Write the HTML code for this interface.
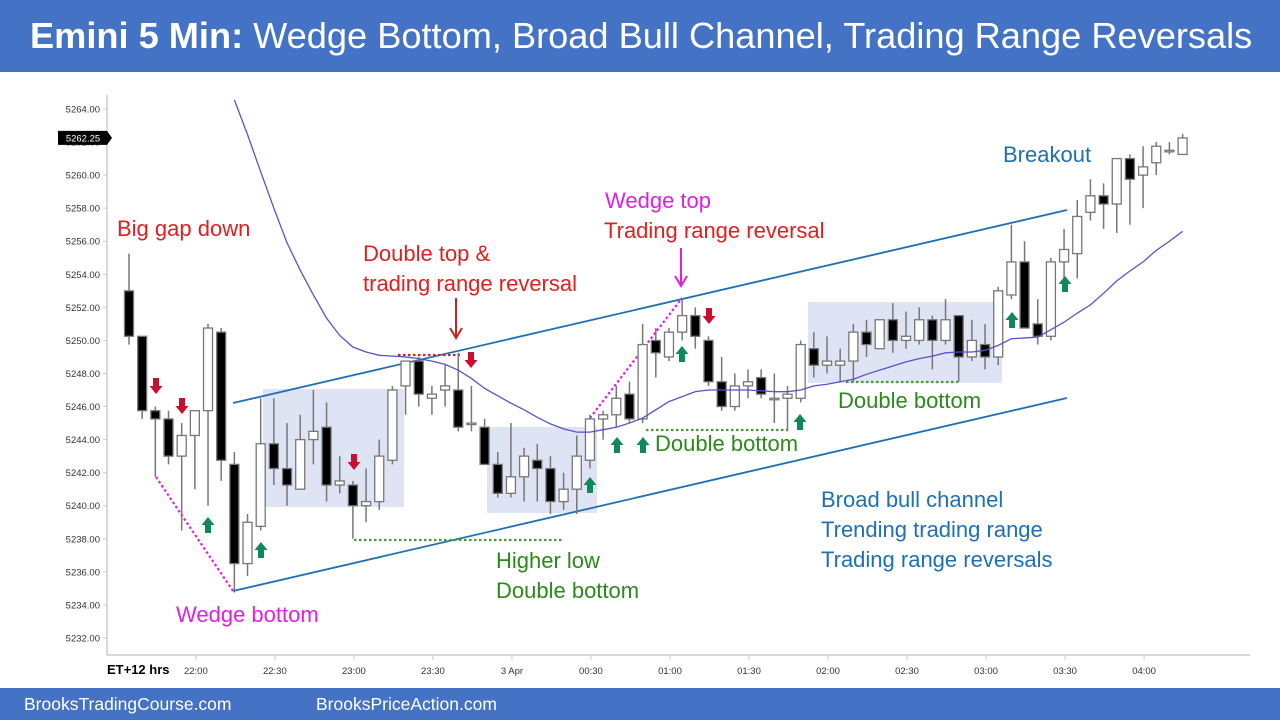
<!DOCTYPE html>
<html><head><meta charset="utf-8"><style>
html,body{margin:0;padding:0;background:#fff;width:1280px;height:720px;overflow:hidden;font-family:"Liberation Sans",sans-serif}
#title{position:absolute;left:0;top:0;width:1280px;height:72px;background:#4472c4;color:#fff;font-size:36.2px;line-height:72px;white-space:nowrap}
#title span{margin-left:30px}
#foot{position:absolute;left:0;top:688px;width:1280px;height:32px;background:#4472c4;color:#fff;font-size:17.5px;line-height:32px}
svg{position:absolute;left:0;top:0}
</style></head><body>
<div id="title"><span><b>Emini 5 Min:</b> Wedge Bottom, Broad Bull Channel, Trading Range Reversals</span></div>
<svg id="chart" width="1280" height="720"></svg>
<div id="foot"><span style="position:absolute;left:24px">BrooksTradingCourse.com</span><span style="position:absolute;left:316px">BrooksPriceAction.com</span></div>
<script>
const opens=[5253,5250.25,5245.75,5245.25,5243,5244.25,5245.75,5250.5,5242.5,5236.5,5238.75,5243.75,5242.25,5241,5244,5244.75,5241.25,5241.25,5240,5240.25,5242.75,5247.25,5248.75,5246.5,5247,5247,5245,5244.75,5242.5,5240.75,5241.75,5242.75,5242.25,5240.25,5241,5242.75,5245.25,5245.5,5246.75,5245.25,5250,5249,5250.5,5251.5,5250,5247.5,5246,5247.25,5247.75,5246.5,5246.5,5246.5,5249.5,5248.5,5248.5,5248.75,5250.5,5249.5,5251.25,5250,5250,5251.25,5250,5251.5,5249,5249.75,5249,5252.75,5254.75,5251,5250.25,5254.75,5255.25,5257.75,5258.75,5258.25,5261,5260,5260.75,5261.5,5261.25];
const highs=[5255.25,5250.25,5246,5245.75,5245,5245.75,5251,5250.75,5243.25,5239.5,5246.5,5246.5,5245,5245.5,5247,5246.25,5243,5241.5,5242.25,5244,5247.25,5248.75,5249,5247.25,5248.5,5249.25,5247.25,5245.25,5243.25,5245,5243.5,5243.75,5243,5242,5244.25,5245.5,5245.75,5247.25,5247.5,5251,5250.75,5250.75,5252.5,5252,5250.25,5249,5248,5248.25,5248.25,5248,5247.25,5250,5250.5,5250.25,5249.5,5251,5251.25,5251.25,5252.25,5251.75,5252,5251.5,5252.5,5251.5,5251.25,5251,5253.25,5257,5256,5252.5,5255,5256.75,5258.5,5259.75,5259.5,5261,5261.25,5261.75,5262,5262,5262.5];
const lows=[5249.75,5245.25,5241.75,5242.5,5238.5,5241,5240,5241.5,5234.75,5235.75,5238.5,5241.25,5240,5241,5242.5,5240.25,5240.75,5238,5239,5239.75,5242.5,5245.5,5246,5245.5,5246,5244.5,5244.5,5242.5,5240.5,5240.5,5240.25,5240.25,5239.5,5239.75,5239.5,5242.25,5244,5244.75,5245,5245,5247.75,5248.75,5250,5249.5,5247.25,5245.75,5245.75,5246.5,5246.5,5245,5244.5,5246.25,5247.75,5248,5247.5,5247.5,5249,5249.5,5249.25,5249.5,5249.75,5248.25,5249.75,5247.5,5248.75,5248.25,5248.5,5252.5,5250.75,5249.75,5250,5253.75,5253.75,5257.25,5256.75,5256.5,5257,5258,5260,5261.25,5261.25];
const closes=[5250.25,5245.75,5245.25,5243,5244.25,5245.75,5250.75,5242.75,5236.5,5239,5243.75,5242.25,5241.25,5244,5244.5,5241.25,5241.5,5240,5240.25,5243,5247,5248.75,5246.75,5246.75,5247.25,5244.75,5245,5242.5,5240.75,5241.75,5243,5242.25,5240.25,5241,5243,5245.25,5245.5,5246.5,5245.25,5249.75,5249.25,5250.5,5251.5,5250.25,5247.5,5246,5247.25,5247.5,5246.75,5246.5,5246.75,5249.75,5248.5,5248.75,5248.75,5250.5,5249.75,5251.25,5250,5250.25,5251.25,5250,5251.25,5249,5250,5249,5253,5254.75,5250.75,5250.25,5254.75,5255.5,5257.5,5258.75,5258.25,5261,5259.75,5260.5,5261.75,5261.5,5262.25];
const emaStart=8;
const ema=[5264.55,5262.45,5260.2,5258,5255.9,5254.25,5252.75,5251.35,5250.3,5249.6,5249.3,5249.1,5249.05,5249,5248.9,5248.75,5248.55,5248.2,5247.7,5247.1,5246.65,5246.2,5245.8,5245.35,5244.95,5244.65,5244.45,5244.45,5244.6,5244.75,5245,5245.3,5245.8,5246.3,5246.6,5246.9,5247,5247,5247,5247,5246.95,5246.9,5246.9,5247,5247.25,5247.35,5247.5,5247.65,5247.95,5248.2,5248.45,5248.7,5248.9,5249.05,5249.25,5249.3,5249.3,5249.4,5249.7,5250.1,5250.15,5250.2,5250.65,5251.1,5251.65,5252.15,5252.85,5253.6,5254.2,5254.75,5255.45,5256,5256.6];
const yTicks=[5232,5234,5236,5238,5240,5242,5244,5246,5248,5250,5252,5254,5256,5258,5260,5262,5264];
const xLabels=["22:00","22:30","23:00","23:30","3 Apr","00:30","01:00","01:30","02:00","02:30","03:00","03:30","04:00"];
const lastPrice=5262.25;

const NS="http://www.w3.org/2000/svg";
const svg=document.getElementById('chart');
const Y=p=>109+(5264-p)*16.53;
const X=i=>129+i*13.17;
function el(t,a,parent){const e=document.createElementNS(NS,t);for(const k in a)e.setAttribute(k,a[k]);(parent||svg).appendChild(e);return e;}

let ax=el('line',{x1:107,y1:95,x2:107,y2:655,stroke:'#ccc','stroke-width':1.5});


let bx=el('line',{x1:107,y1:655,x2:1250,y2:655,stroke:'#ccc','stroke-width':1.5});


yTicks.forEach(v=>{
  el('line',{x1:103,y1:Y(v),x2:107,y2:Y(v),stroke:'#ccc'});
  const t=el('text',{x:100,y:Y(v)+3.5,'text-anchor':'end','font-size':9.5,fill:'#333'});
  t.textContent=v.toFixed(2);
  
  
});
xLabels.forEach((s,k)=>{
  const x=X(5+6*k)+1;
  el('line',{x1:x,y1:655,x2:x,y2:660,stroke:'#ccc'});
  const t=el('text',{x:x,y:674,'text-anchor':'middle','font-size':9.5,fill:'#333'});
  t.textContent=s;
  
  
});
let tz=el('text',{x:107,y:674,'font-size':13,'font-weight':'bold',fill:'#000'});
tz.textContent='ET+12 hrs';



[[263,389,141,118],[487,427,110,86],[808,302,194,81]].forEach(b=>{
  const r=el('rect',{x:b[0],y:b[1],width:b[2],height:b[3],fill:'#dfe4f5'});
  
  
});

[[233,403,1067,210],[233,591,1067,398]].forEach(l=>{
  const e=el('line',{x1:l[0],y1:l[1],x2:l[2],y2:l[3],stroke:'#1f6fb5','stroke-width':1.8});
  
  
});
[[156,477,233,591,'#e020e0'],[590,418,682,298,'#e020e0'],[398,355,460,355,'#d02020'],[354,540,562,540,'#4a9a30'],[646,430,787,430,'#4a9a30'],[846,382,958,382,'#4a9a30']].forEach(l=>{
  const e=el('line',{x1:l[0],y1:l[1],x2:l[2],y2:l[3],stroke:l[4],'stroke-width':2.2,'stroke-dasharray':'2.5,2.5'});
  
  
});

for(let i=0;i<opens.length;i++){
  const g=el('g',{});
  
  
  const x=X(i);
  el('line',{x1:x,y1:Y(highs[i]),x2:x,y2:Y(lows[i]),stroke:'#777','stroke-width':1.5},g);
  const up=closes[i]>=opens[i];
  const top=Y(Math.max(opens[i],closes[i])),bot=Y(Math.min(opens[i],closes[i]));
  el('rect',{x:x-4.5,y:top,width:9,height:Math.max(bot-top,1.5),fill:up?'#fff':'#000',stroke:'#777','stroke-width':1.3},g);
}
let pts=ema.map((v,k)=>X(k+emaStart)+','+Y(v)).join(' ');
let em=el('polyline',{points:pts,fill:'none',stroke:'#5a52c8','stroke-width':1.3});



function arrow(x,y,dir,color){
  const s=dir;
  const p=`${x-3},${y-8*s} ${x+3},${y-8*s} ${x+3},${y} ${x+6.5},${y} ${x},${y+8*s} ${x-6.5},${y} ${x-3},${y}`;
  const e=el('polygon',{points:p,fill:color});
  
  
}
[[156,386],[182,406],[354,462],[471,360],[709,316]].forEach(a=>arrow(a[0],a[1],1,'#c8102e'));
[[208,525],[261,550],[590,485],[617,445],[643,445],[682,354],[800,422],[1012,320],[1065,284]].forEach(a=>arrow(a[0],a[1],-1,'#12875a'));

let la=el('line',{x1:456,y1:298,x2:456,y2:336,stroke:'#d02020','stroke-width':2});


el('polyline',{points:'450,328 456,338 462,328',fill:'none',stroke:'#d02020','stroke-width':2});
let lb=el('line',{x1:681,y1:248,x2:681,y2:284,stroke:'#e020e0','stroke-width':2});


el('polyline',{points:'675,276 681,286 687,276',fill:'none',stroke:'#e020e0','stroke-width':2});

const labels=[
 ['Big gap down',117,236,'#e02020','big-gap-down-label'],
 ['Double top &',363,261,'#e02020','double-top-label'],
 ['trading range reversal',363,291,'#e02020','trading-range-reversal-label'],
 ['Wedge top',605,208,'#e020e0','wedge-top-label'],
 ['Trading range reversal',604,238,'#e02020','wedge-top-reversal-label'],
 ['Breakout',1003,162,'#1f6fb5','breakout-label'],
 ['Higher low',496,568,'#2a8a1a','higher-low-label'],
 ['Double bottom',496,598,'#2a8a1a','double-bottom-label-1'],
 ['Double bottom',655,451,'#2a8a1a','double-bottom-label-2'],
 ['Double bottom',838,408,'#2a8a1a','double-bottom-label-3'],
 ['Broad bull channel',821,507,'#1f6fb5','broad-bull-channel-label'],
 ['Trending trading range',821,537,'#1f6fb5','trending-trading-range-label'],
 ['Trading range reversals',821,567,'#1f6fb5','trading-range-reversals-label'],
 ['Wedge bottom',176,622,'#e020e0','wedge-bottom-label']];
labels.forEach(l=>{
  const t=el('text',{x:l[1],y:l[2],'font-size':22,fill:l[3]});
  t.textContent=l[0];
  
  
});
const lp=el('g',{});


const ly=Y(lastPrice);
el('polygon',{points:`58,${ly-7} 107,${ly-7} 112,${ly} 107,${ly+7} 58,${ly+7}`,fill:'#000'},lp);
const lt=el('text',{x:83,y:ly+3.5,'text-anchor':'middle','font-size':9.5,fill:'#fff'},lp);
lt.textContent=lastPrice.toFixed(2);
</script>
</body></html>
